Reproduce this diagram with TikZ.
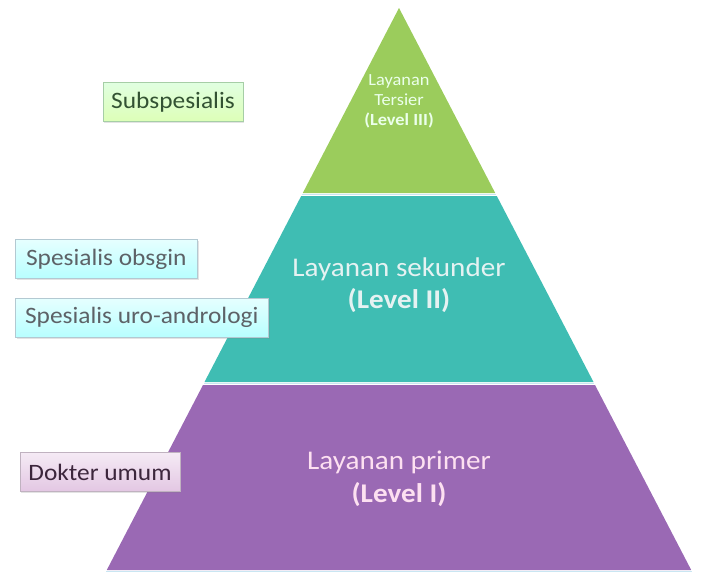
\documentclass[tikz,border=0pt]{standalone}
\usepackage{fontspec}
\setmainfont{Carlito}[FakeStretch=1.08]
\usetikzlibrary{positioning,shadows}

\definecolor{tiergreen}{HTML}{9BCC5C}
\definecolor{tierteal}{HTML}{3FBDB3}
\definecolor{tierpurple}{HTML}{9A69B4}
\definecolor{seamline}{HTML}{C9E6F2}

\begin{document}
\begin{tikzpicture}[
  x=1pt, y=-1pt,
  seam/.style={draw=seamline, line width=1.6pt},
  tiertext/.style={align=center, inner sep=0pt},
  role/.style={rectangle, draw, line width=0.6pt, minimum height=39pt,
               inner xsep=5pt, font=\fontsize{23.5}{25}\selectfont,
               drop shadow={opacity=0.22, shadow xshift=1.2pt, shadow yshift=-1.6pt}},
  subrole/.style={role, draw=green!45!black!35, top color=green!12!white,
                  bottom color=green!30!lime!28!white, text=green!15!black!80},
  specrole/.style={role, draw=cyan!45!black!35, top color=cyan!10!white,
                   bottom color=cyan!28!white, text=cyan!15!black!80},
  genrole/.style={role, draw=violet!35!black!30, top color=violet!8!white,
                  bottom color=violet!22!white, text=violet!20!black!85},
]
\useasboundingbox (0,0) rectangle (702,574);

% pyramid tiers
\fill[tiergreen]  (399,8) -- (495.2,193) -- (302.8,193) -- cycle;
\fill[tierteal]   (301.2,196) -- (496.8,196) -- (593.5,382) -- (204.5,382) -- cycle;
\fill[tierpurple] (203,385) -- (595,385) -- (691.2,570) -- (106.8,570) -- cycle;
\draw[seam] (302,194.6) -- (496,194.6);
\draw[seam] (203.8,383.6) -- (594.2,383.6);
\draw[seam] (106,571.6) -- (692,571.6);

% tier labels
\node[tiertext, text=white!92!green, font=\fontsize{17}{20}\selectfont] (t3) at (399,101)
  {Layanan\\Tersier\\\textbf{(Level III)}};
\node[tiertext, text=white!90!teal, font=\fontsize{27}{32}\selectfont] (t2) at (399,285)
  {Layanan sekunder\\\textbf{(Level II)}};
\node[tiertext, text=white!88!magenta, font=\fontsize{27}{33}\selectfont] (t1) at (399,479)
  {Layanan primer\\\textbf{(Level I)}};

% provider boxes
\node[subrole, minimum width=140pt] (sub) at (173,102) {Subspesialis};
\node[specrole, minimum width=182pt, anchor=west] (obs) at (15,259) {Spesialis obsgin};
\node[specrole, minimum width=253pt, below=19pt of obs.south west, anchor=north west] (uro)
  {Spesialis uro-andrologi};
\node[genrole, minimum width=160pt] (gp) at (100,472) {Dokter umum};

\end{tikzpicture}
\end{document}
